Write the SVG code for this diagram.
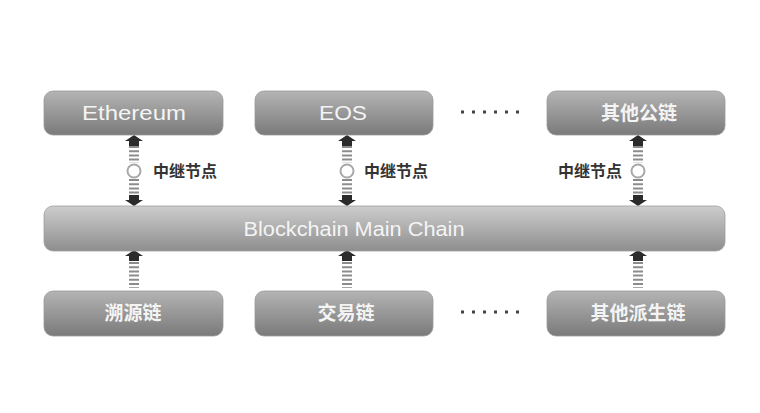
<svg xmlns="http://www.w3.org/2000/svg" width="760" height="413" viewBox="0 0 760 413">
<defs>
<linearGradient id="gBox" x1="0" y1="0" x2="0" y2="1">
<stop offset="0" stop-color="#b4b4b4"/>
<stop offset="1" stop-color="#7a7a7a"/>
</linearGradient>
<linearGradient id="gBar" x1="0" y1="0" x2="0" y2="1">
<stop offset="0" stop-color="#cdcdcd"/>
<stop offset="1" stop-color="#8e8e8e"/>
</linearGradient>
<path id="up" d="M0,0 L9,6 L5,6 L5,11 L-5,11 L-5,6 L-9,6 Z"/>
<path id="down" d="M0,0 L9,-6 L5,-6 L5,-11 L-5,-11 L-5,-6 L-9,-6 Z"/>
</defs>
<style>
.box{fill:url(#gBox);stroke:#9a9a9a;stroke-width:0.8}
.bar{fill:url(#gBar);stroke:#a0a0a0;stroke-width:0.8}
.t{fill:#f4f4f4;font-family:"Liberation Sans","Noto Sans CJK SC",sans-serif;text-anchor:middle;dominant-baseline:central}
.en{font-size:20px}
.zh{font-size:19px;font-weight:bold}
.lbl{fill:#333333;font-family:"Liberation Sans","Noto Sans CJK SC",sans-serif;font-size:16px;font-weight:bold;dominant-baseline:central}
.head{fill:#2b2b2b}
.dash{stroke:#8c8c8c;stroke-width:10;stroke-dasharray:2 2.2;fill:none}
.ring{fill:#ffffff;stroke:#a8a8a8;stroke-width:2}
.dot{fill:#444444}
</style>
<rect width="760" height="413" fill="#ffffff"/>

<g id="connectors">
<g id="c-eth">
<use href="#up" x="134" y="135" class="head"/>
<line x1="134" y1="146" x2="134" y2="163" class="dash"/>
<circle cx="134" cy="171" r="6.5" class="ring"/>
<line x1="134" y1="179" x2="134" y2="195" class="dash"/>
<use href="#down" x="134" y="206" class="head"/>
<text x="153" y="171" class="lbl">中继节点</text>
</g>
<g id="c-eos">
<use href="#up" x="347" y="135" class="head"/>
<line x1="347" y1="146" x2="347" y2="163" class="dash"/>
<circle cx="347" cy="171" r="6.5" class="ring"/>
<line x1="347" y1="179" x2="347" y2="195" class="dash"/>
<use href="#down" x="347" y="206" class="head"/>
<text x="364" y="171" class="lbl">中继节点</text>
</g>
<g id="c-other">
<use href="#up" x="638" y="135" class="head"/>
<line x1="638" y1="146" x2="638" y2="163" class="dash"/>
<circle cx="638" cy="171" r="6.5" class="ring"/>
<line x1="638" y1="179" x2="638" y2="195" class="dash"/>
<use href="#down" x="638" y="206" class="head"/>
<text x="622" y="171" class="lbl" text-anchor="end">中继节点</text>
</g>
<g id="c-trace">
<use href="#up" x="134" y="250" class="head"/>
<line x1="134" y1="262" x2="134" y2="288" class="dash"/>
</g>
<g id="c-trade">
<use href="#up" x="347" y="250" class="head"/>
<line x1="347" y1="262" x2="347" y2="288" class="dash"/>
</g>
<g id="c-derived">
<use href="#up" x="638" y="250" class="head"/>
<line x1="638" y1="262" x2="638" y2="288" class="dash"/>
</g>
</g>

<g id="ethereum">
<rect x="44" y="91" width="179" height="44" rx="9" class="box"/>
<text x="134" y="113" class="t en" textLength="104" lengthAdjust="spacingAndGlyphs">Ethereum</text>
</g>
<g id="eos">
<rect x="255" y="91" width="178" height="44" rx="9" class="box"/>
<text x="343" y="113" class="t en" textLength="48" lengthAdjust="spacingAndGlyphs">EOS</text>
</g>
<g id="dots-top">
<rect x="461" y="110.5" width="3" height="3" class="dot"/>
<rect x="472" y="110.5" width="3" height="3" class="dot"/>
<rect x="483" y="110.5" width="3" height="3" class="dot"/>
<rect x="494" y="110.5" width="3" height="3" class="dot"/>
<rect x="505" y="110.5" width="3" height="3" class="dot"/>
<rect x="516" y="110.5" width="3" height="3" class="dot"/>
</g>
<g id="other-public">
<rect x="547" y="91" width="178" height="44" rx="9" class="box"/>
<text x="639" y="113" class="t zh">其他公链</text>
</g>

<g id="main-chain">
<rect x="44" y="206" width="681" height="45" rx="9" class="bar"/>
<text x="354" y="228.5" class="t en" textLength="221" lengthAdjust="spacingAndGlyphs">Blockchain Main Chain</text>
</g>

<g id="trace-chain">
<rect x="44" y="291" width="179" height="45" rx="9" class="box"/>
<text x="133" y="313.5" class="t zh">溯源链</text>
</g>
<g id="trade-chain">
<rect x="255" y="291" width="178" height="45" rx="9" class="box"/>
<text x="346" y="313.5" class="t zh">交易链</text>
</g>
<g id="dots-bottom">
<rect x="461" y="310.5" width="3" height="3" class="dot"/>
<rect x="472" y="310.5" width="3" height="3" class="dot"/>
<rect x="483" y="310.5" width="3" height="3" class="dot"/>
<rect x="494" y="310.5" width="3" height="3" class="dot"/>
<rect x="505" y="310.5" width="3" height="3" class="dot"/>
<rect x="516" y="310.5" width="3" height="3" class="dot"/>
</g>
<g id="other-derived">
<rect x="547" y="291" width="178" height="45" rx="9" class="box"/>
<text x="638" y="313.5" class="t zh">其他派生链</text>
</g>
</svg>
